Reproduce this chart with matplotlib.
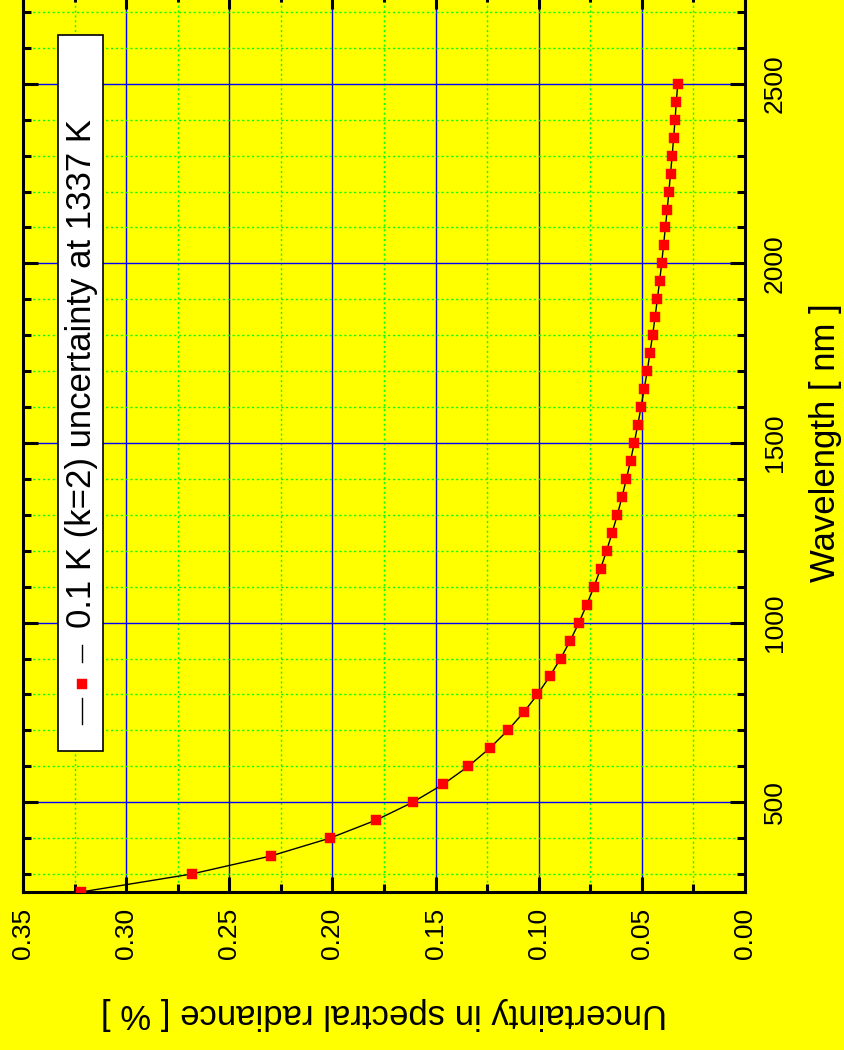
import matplotlib.pyplot as plt
from matplotlib.lines import Line2D
from matplotlib.patches import Rectangle
from matplotlib.ticker import MultipleLocator

plt.rcParams['font.family'] = ['Liberation Sans', 'DejaVu Sans']

# relative radiance uncertainty for a 0.1 K (k=2) temperature error at 1337 K
wavelength = [250, 300, 350, 400, 450, 500, 550, 600, 650, 700,
              750, 800, 850, 900, 950, 1000, 1050, 1100, 1150, 1200,
              1250, 1300, 1350, 1400, 1450, 1500, 1550, 1600, 1650, 1700,
              1750, 1800, 1850, 1900, 1950, 2000, 2050, 2100, 2150, 2200,
              2250, 2300, 2350, 2400, 2450, 2500]
uncertainty = [0.3219, 0.2683, 0.2300, 0.2012, 0.1789, 0.1610, 0.1463, 0.1341, 0.1238, 0.1150,
               0.1073, 0.1006, 0.0947, 0.0894, 0.0847, 0.0805, 0.0767, 0.0732, 0.0700, 0.0671,
               0.0644, 0.0619, 0.0596, 0.0575, 0.0555, 0.0537, 0.0520, 0.0504, 0.0489, 0.0474,
               0.0461, 0.0448, 0.0436, 0.0425, 0.0414, 0.0404, 0.0395, 0.0386, 0.0377, 0.0369,
               0.0361, 0.0353, 0.0346, 0.0339, 0.0333, 0.0326]

unc_ticks = [0.35, 0.30, 0.25, 0.20, 0.15, 0.10, 0.05, 0.00]
unc_labels = ['0.35', '0.30', '0.25', '0.20', '0.15', '0.10', '0.05', '0.00']
wl_ticks = [500, 1000, 1500, 2000, 2500]
wl_labels = ['500', '1000', '1500', '2000', '2500']
series_label = '0.1 K (k=2) uncertainty at 1337 K'

yellow = '#ffff00'

fig = plt.figure(figsize=(8.45, 10.5), dpi=100, facecolor=yellow)
ax = fig.add_axes([23 / 845, 158 / 1050, 722 / 845, 898 / 1050])
ax.set_facecolor(yellow)

ax.plot(uncertainty, wavelength, color='black', lw=1.0, marker='s', ms=6.8,
        mfc='red', mec='red', mew=0.3, zorder=3)

ax.set_xlim(0.35, 0.0)
ax.set_ylim(250, 2750)
ax.set_xticks(unc_ticks)
ax.set_xticklabels(unc_labels, rotation=90, ha='center', va='top')
ax.set_yticks(wl_ticks)
ax.set_yticklabels(wl_labels, rotation=90, ha='left', va='center')
ax.xaxis.set_minor_locator(MultipleLocator(0.025))
ax.yaxis.set_minor_locator(MultipleLocator(100))

ax.set_axisbelow(True)
ax.grid(which='major', color='#0000ff', lw=1.0, ls='-')
ax.grid(which='minor', color='#00ff00', lw=1.0, ls=(0, (1.5, 2)))

for sp in ax.spines.values():
    sp.set_linewidth(2.2)

ax.tick_params(which='both', direction='in', top=True, bottom=True,
               left=True, right=True, labelleft=False, labelright=True,
               width=2.2, labelsize=19)
ax.tick_params(which='major', length=11)
ax.tick_params(which='minor', length=6)
ax.tick_params(axis='x', pad=11.5)
ax.tick_params(axis='y', pad=13)

ax.set_xlabel('Uncertainty in spectral radiance [ % ]', fontsize=25,
              rotation=180, labelpad=27)
ax.yaxis.set_label_position('right')
ax.set_ylabel('Wavelength [ nm ]', fontsize=25, rotation=90, labelpad=16)

# legend drawn by hand so it can run along the wavelength axis
ax.add_patch(Rectangle((0.0485, 0.157), 0.0623, 0.797, transform=ax.transAxes,
                       fc='white', ec='black', lw=1.2, zorder=4))
ax.add_line(Line2D([0.0817, 0.0817], [0.187, 0.216], transform=ax.transAxes,
                   color='black', lw=1.0, zorder=5))
ax.add_line(Line2D([0.0817, 0.0817], [0.256, 0.275], transform=ax.transAxes,
                   color='black', lw=1.0, zorder=5))
ax.add_line(Line2D([0.0817], [0.2316], transform=ax.transAxes, ls='none',
                   marker='s', ms=6.8, mfc='red', mec='red', mew=0.3, zorder=5))
ax.text(0.0817, 0.294, series_label, transform=ax.transAxes, rotation=90,
        ha='center', va='bottom', fontsize=25, zorder=5)

fig.savefig('out.png', dpi=100, facecolor=yellow)
